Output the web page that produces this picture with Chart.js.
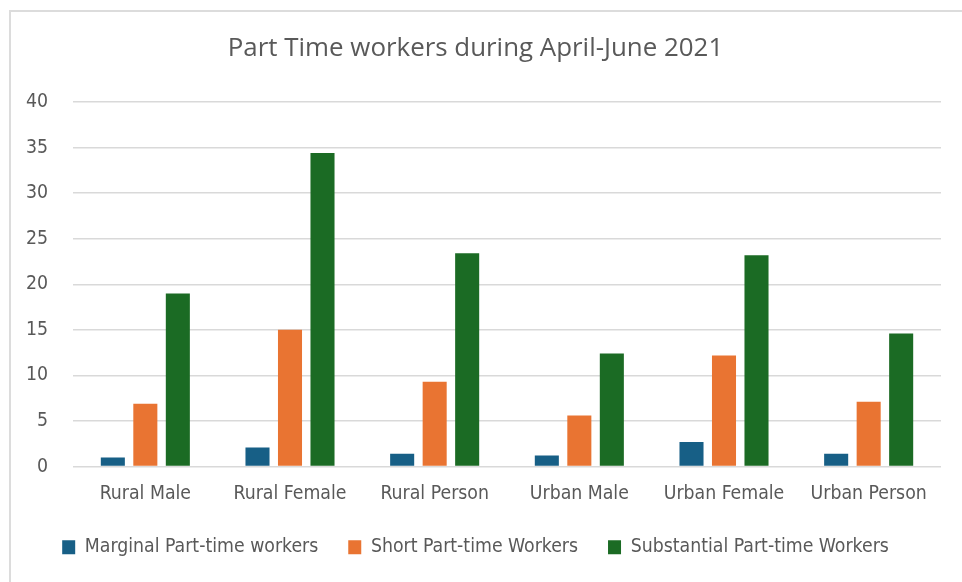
<!DOCTYPE html>
<html><head><meta charset="utf-8">
<script src="https://cdn.jsdelivr.net/npm/chart.js@4.4.1/dist/chart.umd.min.js"></script>
<style>html,body{margin:0;padding:0;background:#fff;overflow:hidden}#wrap{width:962px;height:582px}</style>
</head><body><div id="wrap"><canvas id="c" width="962" height="582"></canvas></div>
<script>
const chartTitle = 'Part Time workers during April-June 2021';
const categories = ['Rural Male', 'Rural Female', 'Rural Person', 'Urban Male', 'Urban Female', 'Urban Person'];
const seriesNames = ['Marginal Part-time workers', 'Short Part-time Workers', 'Substantial Part-time Workers'];
const marginal = [1.0, 2.1, 1.4, 1.2, 2.7, 1.4];
const shortPT = [6.9, 15.0, 9.3, 5.6, 12.2, 7.1];
const substantial = [19.0, 34.4, 23.4, 12.4, 23.2, 14.6];
const yTicks = [0, 5, 10, 15, 20, 25, 30, 35, 40];

const narrow = '"Liberation Sans Narrow", "Arial Narrow", "DejaVu Sans Condensed", sans-serif';
const titleFam = '"Open Sans", "Noto Sans", sans-serif';
function fitSize(family, text, target) {
  const ctx = document.createElement('canvas').getContext('2d');
  ctx.font = '100px ' + family;
  return Math.round(100 * target / ctx.measureText(text).width * 10) / 10;
}
const labelSize = fitSize(narrow, 'Marginal Part-time workers', 234);
const titleSize = fitSize(titleFam, chartTitle, 496);
const txt = '#595959';

const frame = {
  id: 'frame',
  beforeDraw(chart) {
    const c = chart.ctx;
    c.save();
    c.fillStyle = '#fff';
    c.fillRect(0, 0, chart.width, chart.height);
    c.strokeStyle = '#dcdcdc';
    c.lineWidth = 2;
    c.beginPath();
    c.moveTo(10, chart.height);
    c.lineTo(10, 11);
    c.lineTo(chart.width, 11);
    c.stroke();
    c.restore();
  }
};

new Chart(document.getElementById('c'), {
  type: 'bar',
  data: {
    labels: categories,
    datasets: [
      { label: seriesNames[0], data: marginal, backgroundColor: '#175f86' },
      { label: seriesNames[1], data: shortPT, backgroundColor: '#e97432' },
      { label: seriesNames[2], data: substantial, backgroundColor: '#1b6b24' }
    ]
  },
  options: {
    responsive: false,
    animation: false,
    devicePixelRatio: 1,
    datasets: { bar: { categoryPercentage: 0.674, barPercentage: 0.74 } },
    layout: { padding: { left: 10, right: 21, top: 0, bottom: 15 } },
    plugins: {
      title: {
        display: true, text: chartTitle, color: txt,
        font: { family: titleFam, size: titleSize, weight: 'normal' },
        padding: { top: 33, bottom: 38 }
      },
      legend: {
        position: 'bottom',
        labels: {
          color: txt, boxWidth: 13, boxHeight: 14, padding: 30,
          font: { family: narrow, size: labelSize }
        }
      },
      tooltip: { enabled: false }
    },
    scales: {
      x: {
        afterFit(s) { s.height -= 6; },
        grid: { display: false },
        border: { display: false },
        ticks: { color: txt, padding: 8, font: { family: narrow, size: labelSize }, maxRotation: 0 }
      },
      y: {
        min: 0, max: 40,
        afterBuildTicks(s) { s.ticks = yTicks.map(v => ({ value: v })); },
        afterFit(s) { s.width = 63; },
        grid: { color: '#d9d9d9', lineWidth: 1.5, drawTicks: false },
        border: { display: false },
        ticks: { color: txt, padding: 25, font: { family: narrow, size: labelSize } }
      }
    }
  },
  plugins: [frame]
});
</script>
</body></html>
